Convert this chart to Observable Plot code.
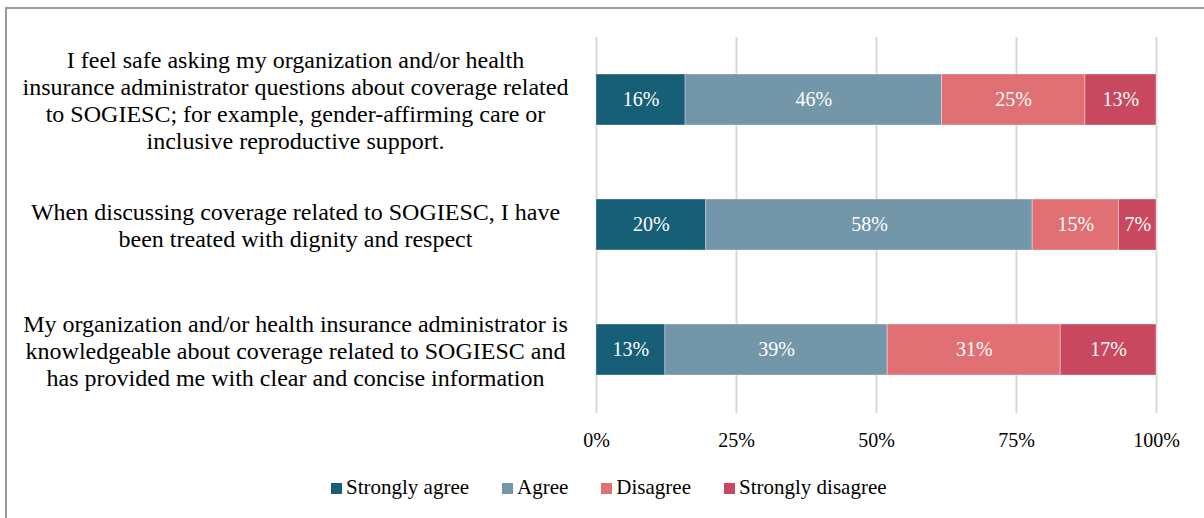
<!DOCTYPE html>
<html>
<head>
<meta charset="utf-8">
<script src="https://cdn.jsdelivr.net/npm/d3@7"></script>
<script src="https://cdn.jsdelivr.net/npm/@observablehq/plot@0.6"></script>
<style>
  html, body { margin: 0; padding: 0; background: #fff; overflow: hidden; width: 1204px; height: 518px; }
  #frame { position: absolute; left: 5px; top: 7px; width: 1300px; height: 600px; border-top: 2px solid #9a9a9a; border-left: 2px solid #9a9a9a; box-sizing: border-box; }
  #chart { position: absolute; left: 0; top: 0; }
  #legend { position: absolute; top: 474px; left: 331px; height: 26px; display: flex; align-items: center; font-family: "Liberation Serif", "Times New Roman", serif; font-size: 21px; line-height: 26px; color: #000; }
  .item { display: flex; align-items: center; margin-right: 33px; }
  .item:last-child { margin-right: 0; }
  .sw { width: 11px; height: 11px; margin-right: 4px; margin-top: 2px; }
</style>
</head>
<body>
<div id="frame"></div>
<div id="chart"></div>
<div id="legend"></div>
<script>
const questions = [
  "I feel safe asking my organization and/or health\ninsurance administrator questions about coverage related\nto SOGIESC; for example, gender-affirming care or\ninclusive reproductive support.",
  "When discussing coverage related to SOGIESC, I have\nbeen treated with dignity and respect",
  "My organization and/or health insurance administrator is\nknowledgeable about coverage related to SOGIESC and\nhas provided me with clear and concise information"
];
const categories = ["Strongly agree", "Agree", "Disagree", "Strongly disagree"];
const colors = ["#175e77", "#7396a8", "#e07074", "#c8485f"];
const stronglyAgree = [15.9, 19.6, 12.3];
const agree = [45.8, 58.3, 39.7];
const disagree = [25.6, 15.4, 30.9];
const stronglyDisagree = [12.7, 6.7, 17.1];
const labelsStronglyAgree = ["16%", "20%", "13%"];
const labelsAgree = ["46%", "58%", "39%"];
const labelsDisagree = ["25%", "15%", "31%"];
const labelsStronglyDisagree = ["13%", "7%", "17%"];
const xTicks = [0, 25, 50, 75, 100];

const series = [stronglyAgree, agree, disagree, stronglyDisagree];
const seriesLabels = [labelsStronglyAgree, labelsAgree, labelsDisagree, labelsStronglyDisagree];
const data = [];
questions.forEach((q, i) => {
  categories.forEach((c, j) => {
    data.push({question: q, category: c, value: series[j][i], label: seriesLabels[j][i]});
  });
});

const font = '"Liberation Serif", "Times New Roman", serif';
const chart = Plot.plot({
  width: 1204,
  height: 450,
  marginLeft: 596,
  marginRight: 48,
  marginTop: 37,
  marginBottom: 37,
  style: { fontFamily: font, fontSize: "20px", color: "#000", background: "transparent" },
  x: { domain: [0, 100], ticks: xTicks, label: null },
  y: { domain: questions, paddingInner: 0.59, paddingOuter: 0.295, label: null },
  color: { domain: categories, range: colors },
  marks: [
    Plot.gridX(xTicks, { stroke: "#d9d9d9", strokeOpacity: 1, strokeWidth: 2 }),
    Plot.barX(data, Plot.stackX({ x: "value", y: "question", fill: "category", stroke: "#ffffff", strokeOpacity: 0.35, strokeWidth: 1 })),
    Plot.text(data, Plot.stackX({ x: "value", y: "question", z: "category", text: "label", fill: "white", fontSize: 20 })),
    Plot.axisX(xTicks, { tickSize: 0, tickPadding: 19, tickFormat: d => d + "%", fontSize: 20, label: null }),
    Plot.axisY({ tickSize: 0, tickPadding: 301, textAnchor: "middle", lineHeight: 1.125, fontSize: 24, label: null })
  ]
});
document.getElementById("chart").appendChild(chart);

const legend = document.getElementById("legend");
categories.forEach((c, j) => {
  const it = document.createElement("div");
  it.className = "item";
  it.innerHTML = `<span class="sw" style="background:${colors[j]}"></span><span>${c}</span>`;
  legend.appendChild(it);
});
</script>
</body>
</html>
